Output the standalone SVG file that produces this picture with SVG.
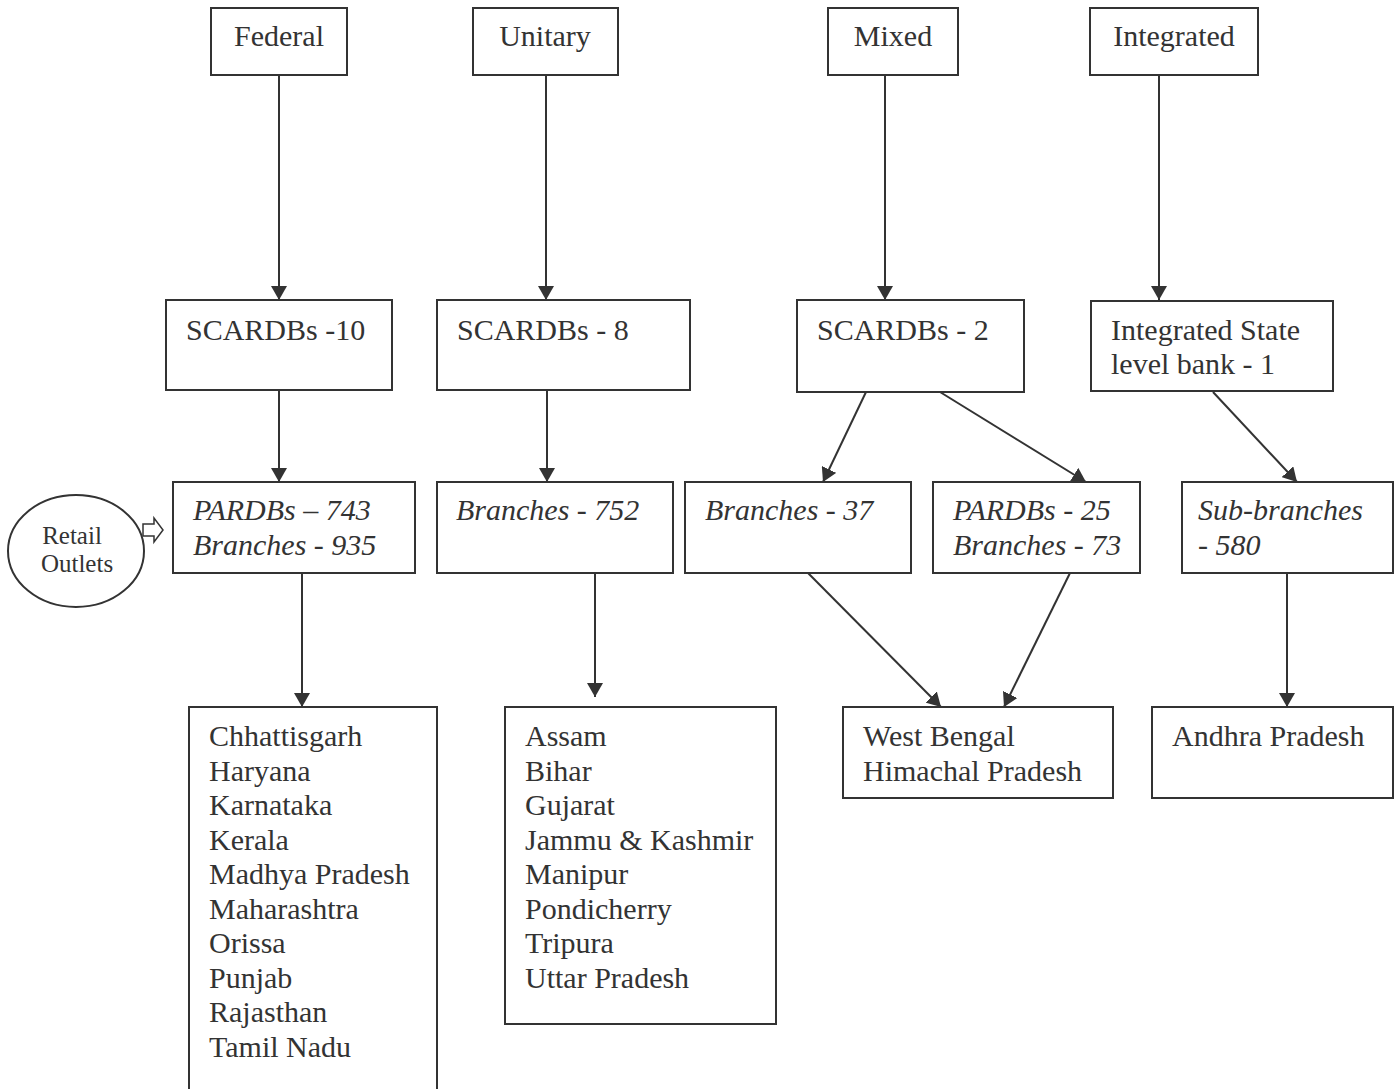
<svg xmlns="http://www.w3.org/2000/svg" width="1395" height="1089" viewBox="0 0 1395 1089">
<style>
.b{fill:#fff;stroke:#333;stroke-width:2}
.t{font-family:"Liberation Serif","Times New Roman",serif;font-size:30px;fill:#333}
.i{font-style:italic}
.s{font-size:25px}
.c{stroke:#333;stroke-width:2;fill:none}
</style>
<defs>
<marker id="ah" markerWidth="14" markerHeight="16" refX="14" refY="8" orient="auto" markerUnits="userSpaceOnUse">
<path d="M0,0 L14,8 L0,16 Z" fill="#333"/>
</marker>
</defs>
<rect width="1395" height="1089" fill="#fff"/>
<g id="connectors">
<line class="c" x1="279" y1="75" x2="279" y2="300" marker-end="url(#ah)"/>
<line class="c" x1="546" y1="75" x2="546" y2="300" marker-end="url(#ah)"/>
<line class="c" x1="885" y1="75" x2="885" y2="300" marker-end="url(#ah)"/>
<line class="c" x1="1159" y1="75" x2="1159" y2="300" marker-end="url(#ah)"/>
<line class="c" x1="279" y1="390" x2="279" y2="482" marker-end="url(#ah)"/>
<line class="c" x1="547" y1="390" x2="547" y2="482" marker-end="url(#ah)"/>
<line class="c" x1="866" y1="392" x2="823" y2="482" marker-end="url(#ah)"/>
<line class="c" x1="940" y1="392" x2="1086" y2="482" marker-end="url(#ah)"/>
<line class="c" x1="1213" y1="392" x2="1297" y2="482" marker-end="url(#ah)"/>
<line class="c" x1="302" y1="573" x2="302" y2="707" marker-end="url(#ah)"/>
<line class="c" x1="595" y1="573" x2="595" y2="697" marker-end="url(#ah)"/>
<line class="c" x1="808" y1="573" x2="941" y2="707" marker-end="url(#ah)"/>
<line class="c" x1="1070" y1="573" x2="1004" y2="707" marker-end="url(#ah)"/>
<line class="c" x1="1287" y1="573" x2="1287" y2="707" marker-end="url(#ah)"/>
<path d="M143,524 L154,524 L154,518 L163,530 L154,542 L154,536 L143,536 Z" fill="#fff" stroke="#333" stroke-width="1.5"/>
</g>
<g id="federal"><rect class="b" x="211" y="8" width="136" height="67"/><text class="t" x="279" y="46" text-anchor="middle">Federal</text></g>
<g id="unitary"><rect class="b" x="473" y="8" width="145" height="67"/><text class="t" x="545" y="46" text-anchor="middle">Unitary</text></g>
<g id="mixed"><rect class="b" x="828" y="8" width="130" height="67"/><text class="t" x="893" y="46" text-anchor="middle">Mixed</text></g>
<g id="integrated"><rect class="b" x="1090" y="8" width="168" height="67"/><text class="t" x="1174" y="46" text-anchor="middle">Integrated</text></g>
<g id="scardbs10"><rect class="b" x="166" y="300" width="226" height="90"/><text class="t" x="186" y="340">SCARDBs -10</text></g>
<g id="scardbs8"><rect class="b" x="437" y="300" width="253" height="90"/><text class="t" x="457" y="340">SCARDBs - 8</text></g>
<g id="scardbs2"><rect class="b" x="797" y="300" width="227" height="92"/><text class="t" x="817" y="340">SCARDBs - 2</text></g>
<g id="isb"><rect class="b" x="1091" y="301" width="242" height="90"/><text class="t" x="1111" y="340">Integrated State</text><text class="t" x="1111" y="374">level bank - 1</text></g>
<g id="pardbs743"><rect class="b" x="173" y="482" width="242" height="91"/><text class="t i" x="193" y="520">PARDBs – 743</text><text class="t i" x="193" y="555">Branches - 935</text></g>
<g id="branches752"><rect class="b" x="437" y="482" width="236" height="91"/><text class="t i" x="456" y="520">Branches - 752</text></g>
<g id="branches37"><rect class="b" x="685" y="482" width="226" height="91"/><text class="t i" x="705" y="520">Branches - 37</text></g>
<g id="pardbs25"><rect class="b" x="933" y="482" width="207" height="91"/><text class="t i" x="953" y="520">PARDBs - 25</text><text class="t i" x="953" y="555">Branches - 73</text></g>
<g id="subbranches"><rect class="b" x="1182" y="482" width="211" height="91"/><text class="t i" x="1198" y="520">Sub-branches</text><text class="t i" x="1198" y="555">- 580</text></g>
<g id="retail"><ellipse cx="76" cy="551" rx="68" ry="56" fill="#fff" stroke="#333" stroke-width="2"/><text class="t s" x="72" y="544" text-anchor="middle">Retail</text><text class="t s" x="77" y="572" text-anchor="middle">Outlets</text></g>
<g id="federalStates"><rect class="b" x="189" y="707" width="248" height="390"/>
<text class="t" x="209" y="746">Chhattisgarh</text>
<text class="t" x="209" y="780.5">Haryana</text>
<text class="t" x="209" y="815">Karnataka</text>
<text class="t" x="209" y="849.5">Kerala</text>
<text class="t" x="209" y="884">Madhya Pradesh</text>
<text class="t" x="209" y="918.5">Maharashtra</text>
<text class="t" x="209" y="953">Orissa</text>
<text class="t" x="209" y="987.5">Punjab</text>
<text class="t" x="209" y="1022">Rajasthan</text>
<text class="t" x="209" y="1056.5">Tamil Nadu</text>
</g>
<g id="unitaryStates"><rect class="b" x="505" y="707" width="271" height="317"/>
<text class="t" x="525" y="746">Assam</text>
<text class="t" x="525" y="780.5">Bihar</text>
<text class="t" x="525" y="815">Gujarat</text>
<text class="t" x="525" y="849.5">Jammu &amp; Kashmir</text>
<text class="t" x="525" y="884">Manipur</text>
<text class="t" x="525" y="918.5">Pondicherry</text>
<text class="t" x="525" y="953">Tripura</text>
<text class="t" x="525" y="987.5">Uttar Pradesh</text>
</g>
<g id="mixedStates"><rect class="b" x="843" y="707" width="270" height="91"/><text class="t" x="863" y="746">West Bengal</text><text class="t" x="863" y="780.5">Himachal Pradesh</text></g>
<g id="integratedStates"><rect class="b" x="1152" y="707" width="241" height="91"/><text class="t" x="1172" y="746">Andhra Pradesh</text></g>
</svg>
